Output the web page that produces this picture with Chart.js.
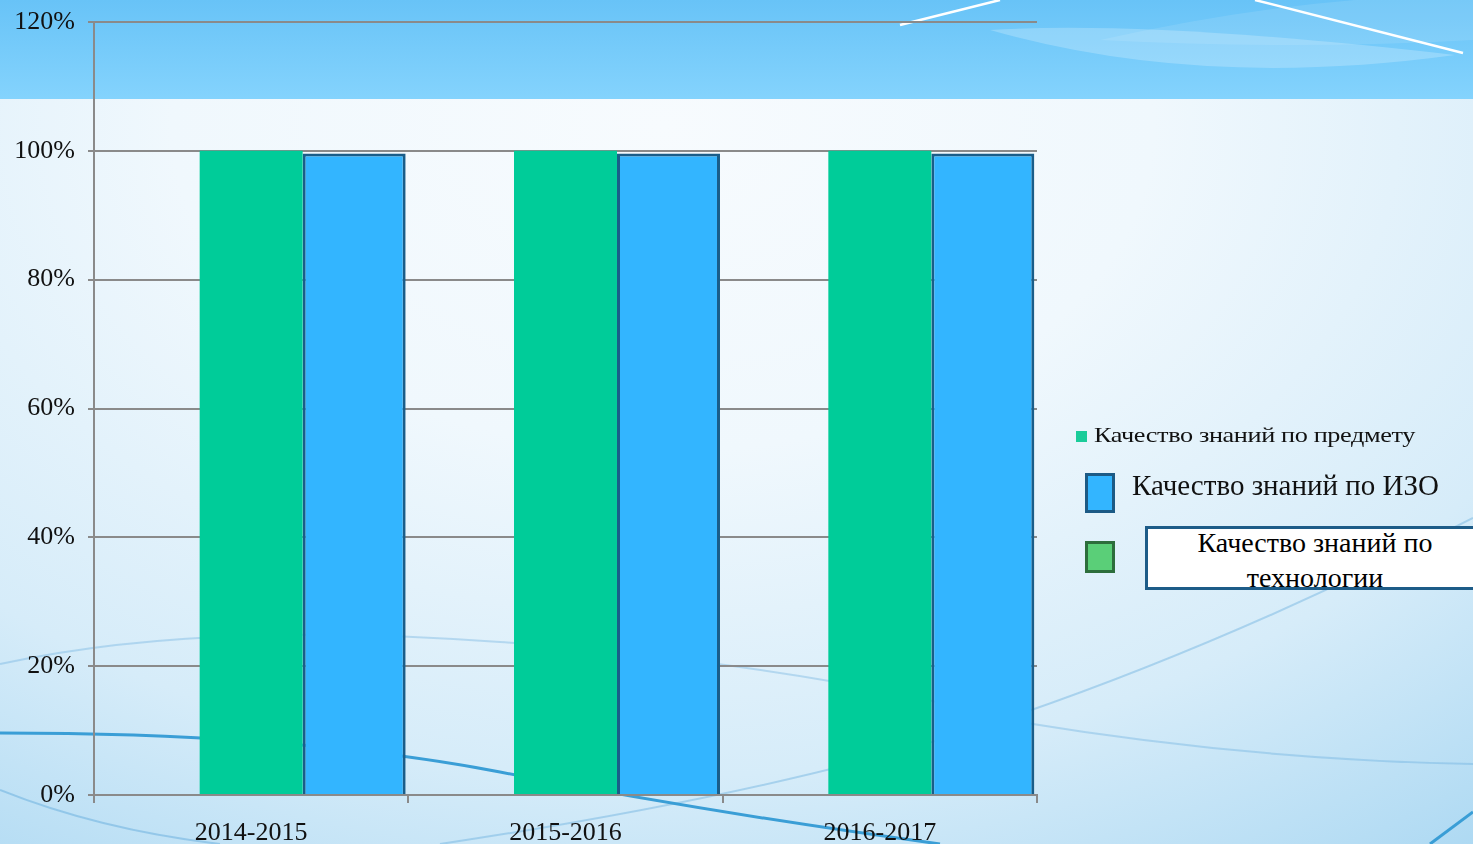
<!DOCTYPE html>
<html>
<head>
<meta charset="utf-8">
<script src="https://cdn.jsdelivr.net/npm/chart.js@4.4.1/dist/chart.umd.min.js"></script>
<style>
  html, body { margin: 0; padding: 0; }
  body {
    width: 1473px; height: 844px; overflow: hidden; position: relative;
    font-family: 'Liberation Serif', 'Times New Roman', serif;
    background: radial-gradient(ellipse 95% 110% at 45% 15%, #f7fbfe 0%, #f0f8fd 35%, #d6ecf9 70%, #a9d7f2 100%);
  }
  #band {
    position: absolute; left: 0; top: 0; width: 1473px; height: 99px;
    background: linear-gradient(#68c3f7, #84d3fd);
  }
  #deco { position: absolute; left: 0; top: 0; }
  #wrap { position: absolute; left: 0; top: 0; width: 1473px; height: 844px; }
  .lg { position: absolute; color: #111; white-space: nowrap; }
  .sw { position: absolute; box-sizing: border-box; }
  #box3 {
    position: absolute; left: 1145px; top: 526px; width: 340px; height: 64px;
    background: #fff; border: 3px solid #1d5c88; box-sizing: border-box;
    overflow: hidden; text-align: center; font-size: 28px; line-height: 35px;
  }
</style>
</head>
<body>
<div id="band"></div>
<svg id="deco" width="1473" height="844">
  <path d="M990,30 Q1200,90 1455,55 Q1150,20 990,30 Z" fill="rgba(255,255,255,0.22)"/>
  <path d="M1100,40 Q1300,-5 1473,-5 L1473,40 Q1300,50 1100,40 Z" fill="rgba(255,255,255,0.10)"/>
  <path d="M900,25 L1000,0" stroke="#fff" stroke-width="2.5" fill="none"/>
  <path d="M1255,0 L1463,53" stroke="#fff" stroke-width="2.5" fill="none"/>
  <path d="M0,664 Q200,620 500,642 T1020,722 Q1250,760 1473,764" stroke="rgba(80,160,215,0.3)" stroke-width="2" fill="none"/>
  <path d="M440,844 Q800,790 1020,714 T1473,518" stroke="rgba(80,160,215,0.35)" stroke-width="2" fill="none"/>
  <path d="M0,790 Q100,830 220,844" stroke="rgba(80,160,215,0.4)" stroke-width="2" fill="none"/>
  <path d="M0,733 Q300,733 500,772 T940,844" stroke="#3a9ed6" stroke-width="3" fill="none"/>
  <path d="M1430,844 L1473,812" stroke="#3a9ed6" stroke-width="3" fill="none"/>
</svg>
<div id="wrap"><canvas id="mychart" width="1473" height="844"></canvas></div>
<div id="legend"></div>
<script>
const categories = ['2014-2015', '2015-2016', '2016-2017'];
const predmetValues = [100, 100, 100];
const izoValues = [99.6, 99.6, 99.6];
const techValues = [null, null, null];
const seriesNames = ['Качество знаний по предмету', 'Качество знаний по ИЗО', 'Качество знаний по технологии'];
const yTicks = [0, 20, 40, 60, 80, 100, 120];

const gridColor = '#8a8a8a';
const serif = 'Liberation Serif';

const canvas = document.getElementById('mychart');
const grafico = new Chart(canvas, {
    type: 'bar',
    data: {
        labels: categories,
        datasets: [
            {
                label: seriesNames[2],
                data: techValues,
                backgroundColor: '#5acf78',
                borderColor: '#2d6e3c',
                borderWidth: 3
            },
            {
                label: seriesNames[0],
                data: predmetValues,
                backgroundColor: '#00cc99',
                borderWidth: 0
            },
            {
                label: seriesNames[1],
                data: izoValues,
                backgroundColor: '#33b5ff',
                borderColor: '#1a5d89',
                borderWidth: 3
            }
        ]
    },
    options: {
        responsive: false,
        animation: false,
        categoryPercentage: 0.983,
        barPercentage: 1,
        layout: { padding: { top: 22, right: 436, bottom: 0, left: 0 } },
        plugins: {
            legend: { display: false },
            tooltip: { enabled: false }
        },
        scales: {
            x: {
                grid: { drawOnChartArea: false, color: gridColor, lineWidth: 2, tickLength: 8 },
                border: { color: gridColor, width: 2 },
                ticks: { font: { family: serif, size: 26 }, color: '#111', padding: 15 },
                afterFit: s => { s.height = 49; }
            },
            y: {
                min: 0,
                max: 120,
                afterBuildTicks: s => { s.ticks = yTicks.map(v => ({ value: v })); },
                grid: { color: gridColor, lineWidth: 2, tickLength: 6 },
                border: { color: gridColor, width: 2 },
                ticks: {
                    font: { family: serif, size: 26 },
                    color: '#111',
                    padding: 13,
                    callback: v => v + '%'
                },
                afterFit: s => { s.width = 94; s.paddingTop = 0; s.paddingBottom = 0; }
            }
        }
    }
});

// legend, drawn as html next to the chart
const legend = document.getElementById('legend');
legend.innerHTML =
    '<div class="sw" style="left:1076px;top:431px;width:11px;height:11px;background:#1acc9a"></div>' +
    '<div class="lg" style="left:1094px;top:423px;font-size:21px;letter-spacing:-0.3px;transform:scaleX(1.25);transform-origin:left top">' + seriesNames[0] + '</div>' +
    '<div class="sw" style="left:1085px;top:473px;width:30px;height:40px;background:#33b5ff;border:3px solid #1c5a85"></div>' +
    '<div class="lg" style="left:1132px;top:469px;font-size:29px">' + seriesNames[1] + '</div>' +
    '<div class="sw" style="left:1085px;top:541px;width:30px;height:32px;background:#5acf78;border:3px solid #2d6e3c"></div>' +
    '<div id="box3"><div style="width:334px;margin-top:-4px">' + seriesNames[2].replace(' технологии', '<br>технологии') + '</div></div>';
</script>
</body>
</html>
